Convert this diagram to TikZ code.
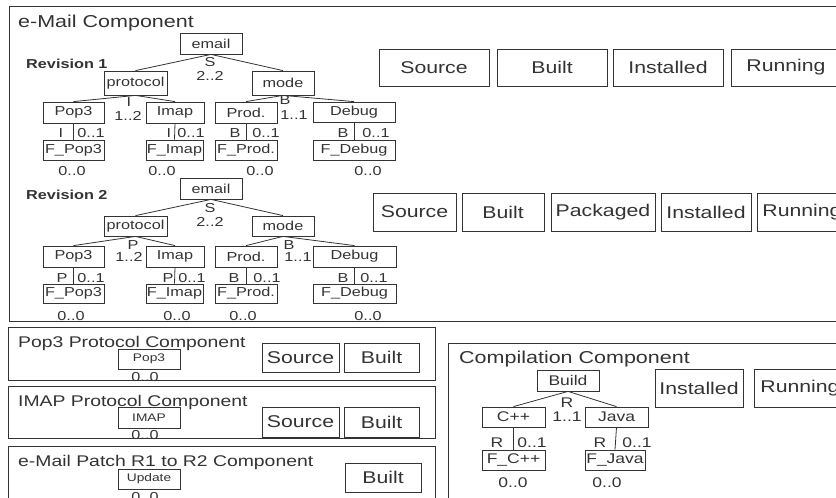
\documentclass[tikz,border=0pt]{standalone}
\usepackage{fontspec}
\setmainfont[FakeStretch=1.25]{Liberation Sans}
\definecolor{lc}{HTML}{333333}
\definecolor{tc}{HTML}{333333}
\newcommand\bx[7][]{\node[#1, minimum width={#5-#3}, minimum height={#6-#4}] (#2) at ({(#3+#5)/2},{(#4+#6)/2}) {#7};}
\begin{document}
\begin{tikzpicture}[x=1pt,y=-1pt,
  bxs/.style={draw=lc, line width=0.8pt, inner sep=0pt, text=tc},
  tn/.style={bxs, font=\fontsize{13}{15}\selectfont},
  sn/.style={bxs, font=\fontsize{17}{20}\selectfont},
  mn/.style={bxs, font=\fontsize{11}{13}\selectfont},
  cn/.style={bxs, font=\fontsize{14}{16}\selectfont},
  frm/.style={draw=lc, line width=0.8pt, inner sep=0pt},
  lbl/.style={inner sep=0pt, text=tc, font=\fontsize{13}{15}\selectfont},
  clbl/.style={inner sep=0pt, text=tc, font=\fontsize{14}{16}\selectfont},
  ttl/.style={inner sep=0pt, anchor=base west, text=tc},
  rev/.style={inner sep=0pt, anchor=base west, text=tc, font=\fontsize{13}{15}\selectfont\bfseries},
  edge/.style={draw=lc, line width=0.8pt}]
\useasboundingbox (0,0) rectangle (836,498);

% ---------- e-Mail component ----------
\bx[frm]{emailc}{9}{6}{846}{321}{}
\node[ttl, font=\fontsize{17.2}{20}\selectfont] (emailt) at (18,27) {e-Mail Component};

% Revision 1
\node[rev] (rev1) at (26,68) {Revision 1};
\bx[tn]{em1}{180}{33}{242}{54}{email}
\bx[tn]{pr1}{104}{71}{167}{95}{protocol}
\bx[tn]{mo1}{252}{71}{314}{95}{mode}
\bx[tn]{po1}{43}{102}{104}{123}{Pop3}
\bx[tn]{im1}{146}{102}{204}{123}{Imap}
\bx[tn]{pd1}{215}{102}{277}{123}{Prod.}
\bx[tn]{db1}{313}{102}{395}{122}{Debug}
\bx[tn]{fpo1}{43}{140}{104}{160}{F\_Pop3}
\bx[tn]{fim1}{146}{140}{203}{160}{F\_Imap}
\bx[tn]{fpd1}{215}{140}{277}{160}{F\_Prod.}
\bx[tn]{fdb1}{313}{140}{395}{160}{F\_Debug}
\draw[edge] (em1.south) -- (pr1.north);
\draw[edge] (em1.south) -- (mo1.north);
\draw[edge] (pr1.south) -- (po1.north);
\draw[edge] (pr1.south) -- (im1.north);
\draw[edge] (mo1.south) -- (pd1.north);
\draw[edge] (mo1.south) -- (db1.north);
\draw[edge] (po1.south) -- (fpo1.north);
\draw[edge] (im1.south) -- (fim1.north);
\draw[edge] (pd1.south) -- (fpd1.north);
\draw[edge] (db1.south) -- (fdb1.north);
\node[lbl] (s1) at (210,62) {S};
\node[lbl] (s1c) at (210,76) {2..2};
\node[lbl] (i1) at (129,102) {I};
\node[lbl] (i1c) at (128,116) {1..2};
\node[lbl] (b1) at (285,100) {B};
\node[lbl] (b1c) at (294,115) {1..1};
\node[lbl] (ia1) at (61,133) {I};
\node[lbl] (ia1c) at (91,133) {0..1};
\node[lbl] (ib1) at (169,133) {I};
\node[lbl] (ib1c) at (191,133) {0..1};
\node[lbl] (ba1) at (235,133) {B};
\node[lbl] (ba1c) at (266,133) {0..1};
\node[lbl] (bb1) at (343,133) {B};
\node[lbl] (bb1c) at (376,133) {0..1};
\node[lbl] (za1) at (72,171) {0..0};
\node[lbl] (zb1) at (162,171) {0..0};
\node[lbl] (zc1) at (260,171) {0..0};
\node[lbl] (zd1) at (368,171) {0..0};
\bx[sn]{src1}{379}{49}{489}{86}{Source}
\bx[sn]{blt1}{497}{49}{607}{86}{Built}
\bx[sn]{ins1}{613}{49}{723}{86}{Installed}
\bx[sn]{run1}{731}{49}{841}{86}{Running}

% Revision 2
\node[rev] (rev2) at (26,199) {Revision 2};
\bx[tn]{em2}{180}{178}{242}{199}{email}
\bx[tn]{pr2}{104}{216}{167}{236}{protocol}
\bx[tn]{mo2}{252}{216}{314}{236}{mode}
\bx[tn]{po2}{43}{246}{104}{267}{Pop3}
\bx[tn]{im2}{146}{246}{204}{267}{Imap}
\bx[tn]{pd2}{215}{246}{277}{267}{Prod.}
\bx[tn]{db2}{313}{246}{396}{267}{Debug}
\bx[tn]{fpo2}{43}{284}{104}{303}{F\_Pop3}
\bx[tn]{fim2}{146}{284}{203}{303}{F\_Imap}
\bx[tn]{fpd2}{215}{284}{277}{303}{F\_Prod.}
\bx[tn]{fdb2}{313}{284}{396}{303}{F\_Debug}
\draw[edge] (em2.south) -- (pr2.north);
\draw[edge] (em2.south) -- (mo2.north);
\draw[edge] (pr2.south) -- (po2.north);
\draw[edge] (pr2.south) -- (im2.north);
\draw[edge] (mo2.south) -- (pd2.north);
\draw[edge] (mo2.south) -- (db2.north);
\draw[edge] (po2.south) -- (fpo2.north);
\draw[edge] (im2.south) -- (fim2.north);
\draw[edge] (pd2.south) -- (fpd2.north);
\draw[edge] (db2.south) -- (fdb2.north);
\node[lbl] (s2) at (210,208) {S};
\node[lbl] (s2c) at (210,222) {2..2};
\node[lbl] (p2) at (133,245) {P};
\node[lbl] (p2c) at (129,257) {1..2};
\node[lbl] (b2) at (289,245) {B};
\node[lbl] (b2c) at (298,257) {1..1};
\node[lbl] (pa2) at (62,278) {P};
\node[lbl] (pa2c) at (91,278) {0..1};
\node[lbl] (pb2) at (168,278) {P};
\node[lbl] (pb2c) at (192,278) {0..1};
\node[lbl] (ba2) at (234,278) {B};
\node[lbl] (ba2c) at (267,278) {0..1};
\node[lbl] (bb2) at (343,278) {B};
\node[lbl] (bb2c) at (374,278) {0..1};
\node[lbl] (za2) at (71,316) {0..0};
\node[lbl] (zb2) at (177,316) {0..0};
\node[lbl] (zc2) at (243,316) {0..0};
\node[lbl] (zd2) at (368,316) {0..0};
\bx[sn]{src2}{373}{193}{456}{231}{Source}
\bx[sn]{blt2}{462}{193}{544}{231}{Built}
\bx[sn]{pkg2}{551}{193}{655}{231}{Packaged}
\bx[sn]{ins2}{661}{193}{751}{231}{Installed}
\bx[sn]{run2}{757}{193}{847}{231}{Running}

% ---------- Pop3 Protocol Component ----------
\bx[frm]{popc}{8}{327}{435}{380}{}
\node[ttl, font=\fontsize{15.5}{18}\selectfont] (popt) at (18,347) {Pop3 Protocol Component};
\bx[mn]{popb}{118}{349}{180}{369}{Pop3}
\node[lbl] (popz) at (145,377) {0..0};
\bx[sn]{popsrc}{262}{343}{339}{372}{Source}
\bx[sn]{popblt}{344}{343}{419}{372}{Built}

% ---------- IMAP Protocol Component ----------
\bx[frm]{imapc}{8}{386}{435}{438}{}
\node[ttl, font=\fontsize{15.5}{18}\selectfont] (imapt) at (18,406) {IMAP Protocol Component};
\bx[mn]{imapb}{118}{407}{180}{428}{IMAP}
\node[lbl] (imapz) at (145,435) {0..0};
\bx[sn]{imapsrc}{262}{407}{339}{437}{Source}
\bx[sn]{imapblt}{344}{407}{419}{437}{Built}

% ---------- e-Mail Patch Component ----------
\bx[frm]{patc}{8}{446}{435}{506}{}
\node[ttl, font=\fontsize{15.5}{18}\selectfont] (patt) at (18,466) {e-Mail Patch R1 to R2 Component};
\bx[mn]{patb}{118}{469}{180}{489}{Update}
\node[lbl] (patz) at (145,497) {0..0};
\bx[sn]{patblt}{345}{463}{421}{492}{Built}

% ---------- Compilation Component ----------
\bx[frm]{compc}{448}{343}{846}{506}{}
\node[ttl, font=\fontsize{17.2}{20}\selectfont] (compt) at (459,363) {Compilation Component};
\bx[cn]{bld}{537}{370}{599}{391}{Build}
\bx[cn]{cpp}{482}{407}{545}{427}{C++}
\bx[cn]{jav}{585}{407}{648}{427}{Java}
\bx[cn]{fcpp}{482}{450}{545}{470}{F\_C++}
\bx[cn]{fjav}{585}{450}{645}{470}{F\_Java}
\draw[edge] (bld.south) -- (cpp.north);
\draw[edge] (bld.south) -- (jav.north);
\draw[edge] (cpp.south) -- (fcpp.north);
\draw[edge] (jav.south) -- (fjav.north);
\node[clbl] (r0) at (567,403) {R};
\node[clbl] (r0c) at (567,417) {1..1};
\node[clbl] (ra) at (497,443) {R};
\node[clbl] (rac) at (532,443) {0..1};
\node[clbl] (rb) at (600,443) {R};
\node[clbl] (rbc) at (637,443) {0..1};
\node[clbl] (za) at (513,483) {0..0};
\node[clbl] (zb) at (607,483) {0..0};
\bx[sn]{cins}{655}{369}{743}{407}{Installed}
\bx[sn]{crun}{754}{369}{846}{407}{Running}
\end{tikzpicture}
\end{document}
